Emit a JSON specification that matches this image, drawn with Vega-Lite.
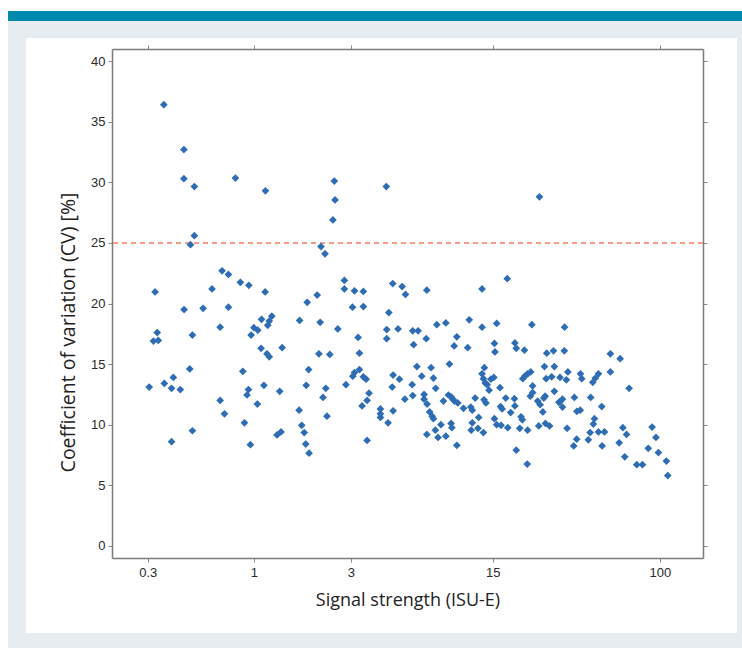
{
  "$schema": "https://vega.github.io/schema/vega-lite/v6.json",
  "width": 591,
  "height": 509,
  "autosize": {"type": "none"},
  "padding": {"left": 112, "top": 49, "right": 39, "bottom": 90},
  "background": "white",
  "config": {
    "view": {"stroke": null},
    "axis": {
      "grid": false,
      "domainColor": "#7b7b7b",
      "domainWidth": 1.5,
      "tickColor": "#8a8a8a",
      "tickSize": 4,
      "labelFont": "Liberation Sans",
      "labelFontSize": 13,
      "labelColor": "#2a2a2a",
      "labelOverlap": false,
      "titleFont": "Open Sans",
      "titleFontWeight": "normal",
      "titleColor": "#222222",
      "titleFontSize": 18
    }
  },
  "datasets": {
    "one": [{"k": 1}],
    "pts": [
      {"s": 0.36, "cv": 36.4}, {"s": 0.452, "cv": 32.7}, {"s": 0.452, "cv": 30.3}, {"s": 0.509, "cv": 29.65},
      {"s": 0.811, "cv": 30.35}, {"s": 1.14, "cv": 29.3}, {"s": 0.509, "cv": 25.6}, {"s": 0.487, "cv": 24.85},
      {"s": 2.14, "cv": 24.7}, {"s": 2.24, "cv": 24.1}, {"s": 2.45, "cv": 26.9}, {"s": 2.51, "cv": 28.55},
      {"s": 2.49, "cv": 30.1}, {"s": 0.697, "cv": 22.7}, {"s": 0.749, "cv": 22.4}, {"s": 4.49, "cv": 29.65},
      {"s": 25.5, "cv": 28.8},
      {"s": 0.858, "cv": 21.75}, {"s": 0.944, "cv": 21.5}, {"s": 1.136, "cv": 20.95}, {"s": 0.326, "cv": 20.95},
      {"s": 0.622, "cv": 21.2}, {"s": 2.79, "cv": 21.9}, {"s": 2.79, "cv": 21.2}, {"s": 3.13, "cv": 21.05},
      {"s": 3.46, "cv": 21.0}, {"s": 3.06, "cv": 19.7}, {"s": 3.46, "cv": 19.75}, {"s": 2.05, "cv": 20.7},
      {"s": 1.83, "cv": 20.1}, {"s": 0.453, "cv": 19.5}, {"s": 0.562, "cv": 19.6}, {"s": 0.749, "cv": 19.7},
      {"s": 0.682, "cv": 18.05}, {"s": 1.68, "cv": 18.6}, {"s": 2.12, "cv": 18.45}, {"s": 2.59, "cv": 17.9},
      {"s": 1.09, "cv": 18.7}, {"s": 1.225, "cv": 18.95}, {"s": 1.19, "cv": 18.55}, {"s": 1.17, "cv": 18.2},
      {"s": 1.0, "cv": 18.0}, {"s": 1.045, "cv": 17.8}, {"s": 0.969, "cv": 17.4}, {"s": 0.334, "cv": 17.6},
      {"s": 0.32, "cv": 16.9}, {"s": 0.338, "cv": 16.95}, {"s": 0.498, "cv": 17.4}, {"s": 1.085, "cv": 16.3},
      {"s": 1.16, "cv": 15.85}, {"s": 1.19, "cv": 15.6}, {"s": 1.377, "cv": 16.35}, {"s": 2.09, "cv": 15.85},
      {"s": 2.365, "cv": 15.8}, {"s": 3.26, "cv": 17.2}, {"s": 3.31, "cv": 15.9}, {"s": 3.31, "cv": 14.55},
      {"s": 3.07, "cv": 14.0}, {"s": 3.13, "cv": 14.3}, {"s": 3.46, "cv": 13.95}, {"s": 3.57, "cv": 13.75},
      {"s": 3.69, "cv": 12.6}, {"s": 3.61, "cv": 12.0}, {"s": 3.41, "cv": 11.55}, {"s": 2.84, "cv": 13.3},
      {"s": 1.86, "cv": 14.55}, {"s": 1.81, "cv": 13.25}, {"s": 2.26, "cv": 13.0}, {"s": 2.19, "cv": 12.25},
      {"s": 2.29, "cv": 10.7}, {"s": 1.67, "cv": 11.2}, {"s": 1.72, "cv": 9.95}, {"s": 1.77, "cv": 9.35},
      {"s": 1.8, "cv": 8.4}, {"s": 1.87, "cv": 7.65}, {"s": 3.61, "cv": 8.7}, {"s": 0.483, "cv": 14.6},
      {"s": 0.305, "cv": 13.1}, {"s": 0.362, "cv": 13.4}, {"s": 0.401, "cv": 13.9}, {"s": 0.393, "cv": 13.0},
      {"s": 0.434, "cv": 12.9}, {"s": 0.882, "cv": 14.4}, {"s": 0.94, "cv": 12.9}, {"s": 0.925, "cv": 12.45},
      {"s": 1.12, "cv": 13.25}, {"s": 1.34, "cv": 12.75}, {"s": 0.682, "cv": 12.0}, {"s": 0.716, "cv": 10.9},
      {"s": 1.04, "cv": 11.7}, {"s": 0.898, "cv": 10.15}, {"s": 0.961, "cv": 8.35}, {"s": 0.498, "cv": 9.5},
      {"s": 0.393, "cv": 8.6}, {"s": 1.3, "cv": 9.15}, {"s": 1.36, "cv": 9.4},
      {"s": 17.7, "cv": 22.05}, {"s": 13.3, "cv": 21.2}, {"s": 4.83, "cv": 21.65}, {"s": 5.37, "cv": 21.4},
      {"s": 5.58, "cv": 20.75}, {"s": 7.11, "cv": 21.1}, {"s": 4.62, "cv": 19.25}, {"s": 4.51, "cv": 17.85},
      {"s": 4.51, "cv": 17.1}, {"s": 5.13, "cv": 17.9}, {"s": 6.06, "cv": 17.75}, {"s": 6.44, "cv": 17.75},
      {"s": 6.12, "cv": 16.6}, {"s": 7.06, "cv": 17.1}, {"s": 7.96, "cv": 18.25}, {"s": 8.82, "cv": 18.4},
      {"s": 9.99, "cv": 17.25}, {"s": 9.69, "cv": 16.5}, {"s": 11.5, "cv": 18.65}, {"s": 13.3, "cv": 18.05},
      {"s": 11.3, "cv": 16.35}, {"s": 15.7, "cv": 18.35}, {"s": 15.3, "cv": 16.7}, {"s": 15.4, "cv": 16.0},
      {"s": 19.3, "cv": 16.75}, {"s": 19.6, "cv": 16.3}, {"s": 21.5, "cv": 16.15}, {"s": 23.4, "cv": 18.25},
      {"s": 27.7, "cv": 15.9}, {"s": 29.9, "cv": 16.1}, {"s": 4.8, "cv": 13.1}, {"s": 4.85, "cv": 14.1},
      {"s": 5.21, "cv": 13.75}, {"s": 4.85, "cv": 11.15}, {"s": 4.58, "cv": 10.15}, {"s": 4.2, "cv": 11.3},
      {"s": 4.2, "cv": 10.9}, {"s": 4.2, "cv": 10.6}, {"s": 5.54, "cv": 12.1}, {"s": 6.02, "cv": 13.3},
      {"s": 6.06, "cv": 12.4}, {"s": 6.35, "cv": 14.8}, {"s": 6.71, "cv": 14.0}, {"s": 6.89, "cv": 12.5},
      {"s": 6.89, "cv": 12.1}, {"s": 7.13, "cv": 11.7}, {"s": 7.46, "cv": 14.7}, {"s": 7.66, "cv": 13.85},
      {"s": 7.86, "cv": 13.0}, {"s": 7.34, "cv": 11.05}, {"s": 7.55, "cv": 10.7}, {"s": 7.66, "cv": 10.5},
      {"s": 7.11, "cv": 9.2}, {"s": 7.83, "cv": 9.55}, {"s": 8.07, "cv": 8.95}, {"s": 8.34, "cv": 10.0},
      {"s": 8.82, "cv": 9.05}, {"s": 8.58, "cv": 11.95}, {"s": 9.19, "cv": 15.0}, {"s": 9.36, "cv": 10.1},
      {"s": 9.44, "cv": 9.75}, {"s": 9.08, "cv": 12.45}, {"s": 9.36, "cv": 12.3}, {"s": 9.54, "cv": 12.1},
      {"s": 9.72, "cv": 11.95}, {"s": 10.1, "cv": 11.8}, {"s": 9.99, "cv": 8.3}, {"s": 10.77, "cv": 11.35},
      {"s": 11.7, "cv": 11.45}, {"s": 11.9, "cv": 11.2}, {"s": 12.3, "cv": 12.2}, {"s": 12.8, "cv": 10.6},
      {"s": 11.9, "cv": 10.15}, {"s": 11.76, "cv": 9.55}, {"s": 12.7, "cv": 9.7}, {"s": 13.5, "cv": 9.35},
      {"s": 13.6, "cv": 12.05}, {"s": 13.9, "cv": 11.8}, {"s": 13.3, "cv": 14.2}, {"s": 13.5, "cv": 13.8},
      {"s": 13.65, "cv": 14.7}, {"s": 13.8, "cv": 13.45}, {"s": 14.1, "cv": 13.3}, {"s": 14.7, "cv": 13.75},
      {"s": 15.2, "cv": 13.9}, {"s": 14.4, "cv": 12.85}, {"s": 15.3, "cv": 10.5}, {"s": 15.7, "cv": 10.0},
      {"s": 16.5, "cv": 9.95}, {"s": 16.3, "cv": 13.05}, {"s": 16.4, "cv": 11.5}, {"s": 16.7, "cv": 11.3},
      {"s": 17.4, "cv": 12.2}, {"s": 17.8, "cv": 9.75}, {"s": 18.4, "cv": 11.0}, {"s": 19.2, "cv": 12.15},
      {"s": 19.3, "cv": 11.55}, {"s": 19.6, "cv": 7.9}, {"s": 20.7, "cv": 10.65}, {"s": 21.0, "cv": 10.4},
      {"s": 20.4, "cv": 9.7}, {"s": 22.3, "cv": 9.55}, {"s": 22.2, "cv": 6.75}, {"s": 21.1, "cv": 13.8},
      {"s": 21.6, "cv": 14.0}, {"s": 22.3, "cv": 14.2}, {"s": 23.1, "cv": 14.35}, {"s": 23.6, "cv": 13.2},
      {"s": 23.0, "cv": 12.35}, {"s": 23.6, "cv": 12.65}, {"s": 25.0, "cv": 11.95}, {"s": 25.7, "cv": 11.65},
      {"s": 25.3, "cv": 9.9}, {"s": 26.8, "cv": 12.2}, {"s": 27.2, "cv": 12.35}, {"s": 26.5, "cv": 11.05},
      {"s": 27.5, "cv": 13.8}, {"s": 27.0, "cv": 14.8}, {"s": 30.2, "cv": 14.8}, {"s": 29.3, "cv": 13.95},
      {"s": 30.2, "cv": 12.75}, {"s": 27.3, "cv": 10.1}, {"s": 28.6, "cv": 9.9}, {"s": 32.2, "cv": 11.9},
      {"s": 33.9, "cv": 18.05}, {"s": 33.8, "cv": 16.1}, {"s": 32.2, "cv": 13.9}, {"s": 34.6, "cv": 13.7},
      {"s": 35.2, "cv": 14.35}, {"s": 40.6, "cv": 14.2}, {"s": 41.2, "cv": 13.8}, {"s": 57.0, "cv": 15.85},
      {"s": 63.7, "cv": 15.45}, {"s": 57.0, "cv": 14.35}, {"s": 49.8, "cv": 14.2}, {"s": 48.1, "cv": 13.85},
      {"s": 46.7, "cv": 13.5}, {"s": 70.5, "cv": 13.0}, {"s": 33.1, "cv": 12.1}, {"s": 37.9, "cv": 12.25},
      {"s": 45.6, "cv": 12.25}, {"s": 31.8, "cv": 11.85}, {"s": 33.1, "cv": 11.45}, {"s": 51.7, "cv": 11.5},
      {"s": 39.0, "cv": 11.1}, {"s": 40.5, "cv": 11.2}, {"s": 47.6, "cv": 10.5}, {"s": 47.0, "cv": 10.05},
      {"s": 34.9, "cv": 9.7}, {"s": 45.3, "cv": 9.35}, {"s": 49.8, "cv": 9.4}, {"s": 53.3, "cv": 9.4},
      {"s": 65.7, "cv": 9.75}, {"s": 68.5, "cv": 9.2}, {"s": 91.5, "cv": 9.8}, {"s": 38.9, "cv": 8.8},
      {"s": 37.6, "cv": 8.25}, {"s": 44.4, "cv": 8.75}, {"s": 51.9, "cv": 8.25}, {"s": 63.0, "cv": 8.5},
      {"s": 67.1, "cv": 7.35}, {"s": 87.6, "cv": 8.05}, {"s": 95.6, "cv": 8.95}, {"s": 98.3, "cv": 7.7},
      {"s": 76.9, "cv": 6.7}, {"s": 82.0, "cv": 6.7}, {"s": 107.6, "cv": 7.0}, {"s": 109.3, "cv": 5.8}
    ]
  },
  "layer": [
    {
      "data": {"name": "one"},
      "mark": {"type": "rect", "color": "#e7ecf0"},
      "encoding": {
        "x": {"datum": 0.0615, "type": "quantitative", "scale": {"type": "log", "domain": [0.2, 163], "nice": false}, "axis": null},
        "x2": {"datum": 260},
        "y": {"datum": 43.31, "type": "quantitative", "scale": {"domain": [-1, 41], "nice": false, "zero": false}, "axis": null},
        "y2": {"datum": -9}
      }
    },
    {
      "data": {"name": "one"},
      "mark": {"type": "rect", "color": "#0088ad"},
      "encoding": {
        "x": {"datum": 0.0615, "type": "quantitative", "axis": null},
        "x2": {"datum": 260},
        "y": {"datum": 44.14, "type": "quantitative", "axis": null},
        "y2": {"datum": 43.31}
      }
    },
    {
      "data": {"name": "one"},
      "mark": {"type": "rect", "color": "#ffffff"},
      "encoding": {
        "x": {"datum": 0.0754, "type": "quantitative", "axis": {"orient": "top", "title": null, "values": [0.3, 1, 3, 15, 100], "labels": false, "ticks": true, "zindex": 1}},
        "x2": {"datum": 239.7},
        "y": {"datum": 41.91, "type": "quantitative", "axis": {"orient": "right", "title": null, "values": [0, 5, 10, 15, 20, 25, 30, 35, 40], "labels": false, "ticks": true, "zindex": 1}},
        "y2": {"datum": -7.19}
      }
    },
    {
      "data": {"name": "one"},
      "mark": {"type": "rule", "color": "#f27c5c", "strokeDash": [5, 4], "strokeWidth": 1.5},
      "encoding": {
        "y": {"datum": 25, "type": "quantitative", "axis": null}
      }
    },
    {
      "data": {"name": "pts"},
      "mark": {"type": "point", "shape": "diamond", "filled": true, "size": 60, "color": "#2e6db4", "opacity": 1},
      "encoding": {
        "x": {
          "field": "s", "type": "quantitative",
          "axis": {"orient": "bottom", "zindex": 1, "title": "Signal strength (ISU-E)", "values": [0.3, 1, 3, 15, 100], "format": "~g", "labelPadding": 4, "titleX": 295.5, "titleY": 42, "titleBaseline": "middle", "titleAlign": "center"}
        },
        "y": {
          "field": "cv", "type": "quantitative",
          "axis": {"orient": "left", "zindex": 1, "title": "Coefficient of variation (CV) [%]", "values": [0, 5, 10, 15, 20, 25, 30, 35, 40], "labelPadding": 3, "titleFontSize": 19.5, "titleX": -44, "titleY": 283, "titleAngle": 270, "titleBaseline": "middle", "titleAlign": "center"}
        }
      }
    }
  ],
  "resolve": {"axis": {"x": "independent", "y": "independent"}}
}
